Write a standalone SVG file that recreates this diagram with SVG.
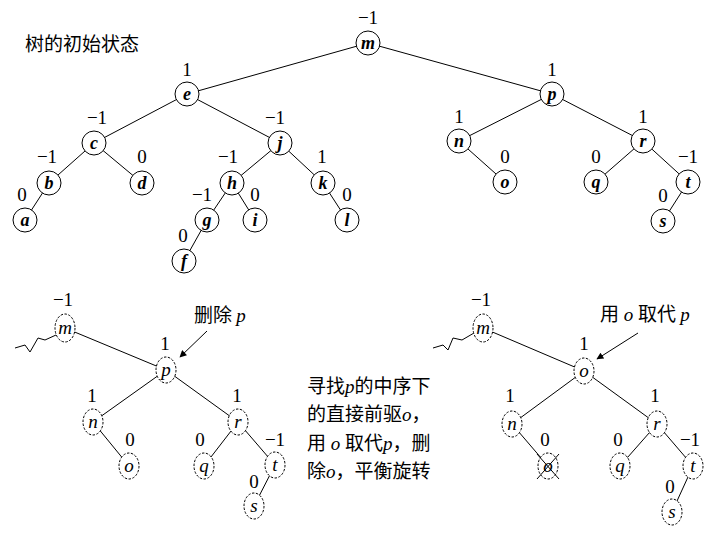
<svg xmlns="http://www.w3.org/2000/svg" width="720" height="540" viewBox="0 0 720 540">
<style>
.e{stroke:#000;stroke-width:1;fill:none}
.n{fill:#fff;stroke:#000;stroke-width:1}
.d{fill:#fff;stroke:#000;stroke-width:1;stroke-dasharray:2.5,1.5}
.k{font-family:"Liberation Serif",serif;font-style:italic;font-weight:bold;font-size:18px;text-anchor:middle}
.kl{font-family:"Liberation Serif",serif;font-style:italic;font-size:19px;text-anchor:middle}
.b{font-family:"Liberation Serif",serif;font-size:19px;text-anchor:middle}
.cj{font-family:"Noto Sans CJK SC",sans-serif;font-size:19px}
.it{font-family:"Liberation Serif",serif;font-style:italic}
</style>
<defs>
<marker id="ah" viewBox="0 0 10 10" refX="9" refY="5" markerWidth="9" markerHeight="7" orient="auto" markerUnits="userSpaceOnUse">
<path d="M0,0 L10,5 L0,10 z" fill="#000"/>
</marker>
</defs>
<rect width="720" height="540" fill="#fff"/>
<text class="cj" x="25" y="51" font-size="20.5">树的初始状态</text>
<g id="connectors">
<line class="e" x1="368" y1="43" x2="187" y2="94"/>
<line class="e" x1="368" y1="43" x2="552" y2="94"/>
<line class="e" x1="187" y1="94" x2="94" y2="143"/>
<line class="e" x1="187" y1="94" x2="280" y2="143"/>
<line class="e" x1="94" y1="143" x2="49" y2="183"/>
<line class="e" x1="94" y1="143" x2="142" y2="183"/>
<line class="e" x1="49" y1="183" x2="25" y2="220"/>
<line class="e" x1="280" y1="143" x2="232" y2="183"/>
<line class="e" x1="280" y1="143" x2="323" y2="183"/>
<line class="e" x1="232" y1="183" x2="207" y2="220"/>
<line class="e" x1="232" y1="183" x2="255" y2="220"/>
<line class="e" x1="207" y1="220" x2="184" y2="261"/>
<line class="e" x1="323" y1="183" x2="347" y2="220"/>
<line class="e" x1="552" y1="94" x2="459" y2="141"/>
<line class="e" x1="552" y1="94" x2="643" y2="141"/>
<line class="e" x1="459" y1="141" x2="505" y2="182"/>
<line class="e" x1="643" y1="141" x2="596" y2="182"/>
<line class="e" x1="643" y1="141" x2="688" y2="182"/>
<line class="e" x1="688" y1="182" x2="663" y2="221"/>
<polyline class="e" points="15,348 25,345 30,352 38,338 45,340 56,335"/>
<line class="e" x1="65" y1="328" x2="166" y2="370"/>
<line class="e" x1="166" y1="370" x2="93" y2="422"/>
<line class="e" x1="166" y1="370" x2="238" y2="422"/>
<line class="e" x1="93" y1="422" x2="129" y2="466"/>
<line class="e" x1="238" y1="422" x2="204" y2="466"/>
<line class="e" x1="238" y1="422" x2="275" y2="465"/>
<line class="e" x1="275" y1="465" x2="254" y2="506"/>
<line class="e" x1="207" y1="331" x2="180" y2="357" marker-end="url(#ah)"/>
<polyline class="e" points="433,348 443,345 448,350 453,338 462,340 474,333"/>
<line class="e" x1="483" y1="328" x2="584" y2="371"/>
<line class="e" x1="584" y1="371" x2="512" y2="424"/>
<line class="e" x1="584" y1="371" x2="657" y2="424"/>
<line class="e" x1="512" y1="424" x2="548" y2="466"/>
<line class="e" x1="657" y1="424" x2="620" y2="466"/>
<line class="e" x1="657" y1="424" x2="693" y2="466"/>
<line class="e" x1="693" y1="466" x2="672" y2="512"/>
<line class="e" x1="638" y1="333" x2="597" y2="359" marker-end="url(#ah)"/>
</g>
<g id="t-m"><circle class="n" cx="368" cy="43" r="12"/><text class="k" x="368" y="49">m</text><text class="b" x="368" y="24">−1</text></g>
<g id="t-e"><circle class="n" cx="187" cy="94" r="12"/><text class="k" x="187" y="100">e</text><text class="b" x="187" y="76">1</text></g>
<g id="t-p"><circle class="n" cx="552" cy="94" r="12"/><text class="k" x="552" y="100">p</text><text class="b" x="552" y="76">1</text></g>
<g id="t-c"><circle class="n" cx="94" cy="143" r="12"/><text class="k" x="94" y="149">c</text><text class="b" x="97" y="124">−1</text></g>
<g id="t-j"><circle class="n" cx="280" cy="143" r="12"/><text class="k" x="280" y="149">j</text><text class="b" x="275" y="124">−1</text></g>
<g id="t-b"><circle class="n" cx="49" cy="183" r="12"/><text class="k" x="49" y="189">b</text><text class="b" x="47" y="163">−1</text></g>
<g id="t-d"><circle class="n" cx="142" cy="183" r="12"/><text class="k" x="142" y="189">d</text><text class="b" x="142" y="163">0</text></g>
<g id="t-a"><circle class="n" cx="25" cy="220" r="12"/><text class="k" x="25" y="226">a</text><text class="b" x="22" y="201">0</text></g>
<g id="t-h"><circle class="n" cx="232" cy="183" r="12"/><text class="k" x="232" y="189">h</text><text class="b" x="228" y="163">−1</text></g>
<g id="t-k"><circle class="n" cx="323" cy="183" r="12"/><text class="k" x="323" y="189">k</text><text class="b" x="322" y="163">1</text></g>
<g id="t-g"><circle class="n" cx="207" cy="220" r="12"/><text class="k" x="207" y="226">g</text><text class="b" x="202" y="201">−1</text></g>
<g id="t-i"><circle class="n" cx="255" cy="220" r="12"/><text class="k" x="255" y="226">i</text><text class="b" x="255" y="201">0</text></g>
<g id="t-l"><circle class="n" cx="347" cy="220" r="12"/><text class="k" x="347" y="226">l</text><text class="b" x="347" y="201">0</text></g>
<g id="t-f"><circle class="n" cx="184" cy="261" r="12"/><text class="k" x="184" y="267">f</text><text class="b" x="183" y="242">0</text></g>
<g id="t-n"><circle class="n" cx="459" cy="141" r="12"/><text class="k" x="459" y="147">n</text><text class="b" x="459" y="123">1</text></g>
<g id="t-o"><circle class="n" cx="505" cy="182" r="12"/><text class="k" x="505" y="188">o</text><text class="b" x="505" y="163">0</text></g>
<g id="t-r"><circle class="n" cx="643" cy="141" r="12"/><text class="k" x="643" y="147">r</text><text class="b" x="643" y="123">1</text></g>
<g id="t-q"><circle class="n" cx="596" cy="182" r="12"/><text class="k" x="596" y="188">q</text><text class="b" x="596" y="163">0</text></g>
<g id="t-t"><circle class="n" cx="688" cy="182" r="12"/><text class="k" x="688" y="188">t</text><text class="b" x="688" y="163">−1</text></g>
<g id="t-s"><circle class="n" cx="663" cy="221" r="12"/><text class="k" x="663" y="227">s</text><text class="b" x="663" y="202">0</text></g>

<g id="l-m"><ellipse class="d" cx="65" cy="328" rx="10" ry="14"/><text class="kl" x="65" y="334">m</text><text class="b" x="63" y="306">−1</text></g>
<g id="l-p"><ellipse class="d" cx="166" cy="370" rx="10" ry="13" stroke-dasharray="1.5,1"/><text class="kl" x="166" y="376">p</text><text class="b" x="165" y="350">1</text></g>
<g id="l-n"><ellipse class="d" cx="93" cy="422" rx="10" ry="13"/><text class="kl" x="93" y="428">n</text><text class="b" x="92" y="402">1</text></g>
<g id="l-r"><ellipse class="d" cx="238" cy="422" rx="10" ry="13"/><text class="kl" x="238" y="428">r</text><text class="b" x="237" y="402">1</text></g>
<g id="l-o"><ellipse class="d" cx="129" cy="466" rx="10" ry="13"/><text class="kl" x="129" y="472">o</text><text class="b" x="130" y="446">0</text></g>
<g id="l-q"><ellipse class="d" cx="204" cy="466" rx="10" ry="13"/><text class="kl" x="204" y="472">q</text><text class="b" x="200" y="446">0</text></g>
<g id="l-t"><ellipse class="d" cx="275" cy="465" rx="10" ry="13"/><text class="kl" x="275" y="471">t</text><text class="b" x="275" y="446">−1</text></g>
<g id="l-s"><ellipse class="d" cx="254" cy="506" rx="10" ry="13"/><text class="kl" x="254" y="512">s</text><text class="b" x="254" y="488">0</text></g>
<text class="cj" x="194" y="322" font-size="16">删除 <tspan class="it">p</tspan></text>

<g id="r-m"><ellipse class="d" cx="483" cy="328" rx="10" ry="14"/><text class="kl" x="483" y="334">m</text><text class="b" x="481" y="306">−1</text></g>
<g id="r-o"><ellipse class="d" cx="584" cy="371" rx="10" ry="13"/><text class="kl" x="584" y="377">o</text><text class="b" x="584" y="350">1</text></g>
<g id="r-n"><ellipse class="d" cx="512" cy="424" rx="10" ry="13"/><text class="kl" x="512" y="430">n</text><text class="b" x="510" y="402">1</text></g>
<g id="r-r"><ellipse class="d" cx="657" cy="424" rx="10" ry="13"/><text class="kl" x="657" y="430">r</text><text class="b" x="655" y="402">1</text></g>
<g id="r-o2"><ellipse class="d" cx="548" cy="466" rx="10" ry="13"/><text class="kl" x="548" y="472">o</text><text class="b" x="545" y="446">0</text><line class="e" x1="537" y1="454" x2="559" y2="479"/><line class="e" x1="559" y1="454" x2="537" y2="479"/></g>
<g id="r-q"><ellipse class="d" cx="620" cy="466" rx="10" ry="13"/><text class="kl" x="620" y="472">q</text><text class="b" x="618" y="446">0</text></g>
<g id="r-t"><ellipse class="d" cx="693" cy="466" rx="10" ry="13"/><text class="kl" x="693" y="472">t</text><text class="b" x="690" y="446">−1</text></g>
<g id="r-s"><ellipse class="d" cx="672" cy="512" rx="10" ry="13"/><text class="kl" x="672" y="518">s</text><text class="b" x="670" y="493">0</text></g>
<text class="cj" x="600" y="321" font-size="16">用<tspan class="it"> o </tspan>取代 <tspan class="it">p</tspan></text>

<g id="note" class="cj" font-size="18">
<text x="307" y="393">寻找<tspan class="it">p</tspan>的中序下</text>
<text x="307" y="421">的直接前驱<tspan class="it">o</tspan>，</text>
<text x="307" y="450">用<tspan class="it"> o </tspan>取代<tspan class="it">p</tspan>，删</text>
<text x="307" y="478">除<tspan class="it">o</tspan>，平衡旋转</text>
</g>
</svg>
